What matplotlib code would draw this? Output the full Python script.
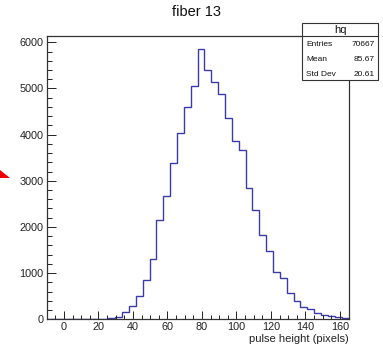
import numpy as np
import matplotlib
matplotlib.use("Agg")
import matplotlib.pyplot as plt
from matplotlib.patches import Rectangle, Polygon
from matplotlib.ticker import MultipleLocator

plt.rcParams['font.family'] = ['Liberation Sans', 'DejaVu Sans']

# ---- data ----
title = "fiber 13"
x_label = "pulse height (pixels)"
hist_name = "hq"
x_min, x_max, n_bins = -10, 165, 44
counts = [0, 0, 0, 0, 0, 0, 0, 0, 0,
          20, 40, 152, 281, 511, 845, 1313, 2150, 2670, 3392, 4028,
          4598, 5053, 5861, 5400, 5147, 4880, 4360, 3862, 3674, 2837,
          2367, 1826, 1479, 1018, 901, 576, 390, 266, 223, 143,
          100, 65, 50, 22]
stat_names = ["Entries", "Mean", "Std Dev"]
stat_values = ["70667", "85.67", "20.61"]
y_max = 6136

W, H = 383, 347
fig = plt.figure(figsize=(W / 100, H / 100), dpi=100)

def fx(px):
    return px / W

def fy(py):
    return 1 - py / H

L, R, T, B = 46.7, 348.5, 36.0, 319.3
ax = fig.add_axes([fx(L), fy(B), fx(R) - fx(L), fy(T) - fy(B)])

edges = np.linspace(x_min, x_max, n_bins + 1)
ax.stairs(counts, edges, color='#3a3aaa', linewidth=1.0, baseline=0, zorder=1)

ax.set_xlim(x_min, x_max)
ax.set_ylim(0, y_max)
ax.xaxis.set_major_locator(MultipleLocator(20))
ax.xaxis.set_minor_locator(MultipleLocator(5))
ax.yaxis.set_major_locator(MultipleLocator(1000))
ax.yaxis.set_minor_locator(MultipleLocator(200))
ax.tick_params(axis='x', which='major', direction='in', length=5.8, width=0.7,
               labelsize=7.8, pad=2, colors='#222222')
ax.tick_params(axis='x', which='minor', direction='in', length=2.9, width=0.7, colors='#222222')
ax.tick_params(axis='y', which='major', direction='in', length=6.8, width=0.7,
               labelsize=7.8, pad=2.4, colors='#222222')
ax.tick_params(axis='y', which='minor', direction='in', length=3.4, width=0.7, colors='#222222')
for s in ax.spines.values():
    s.set_linewidth(0.9)
    s.set_color('#333333')
    s.set_zorder(3)

fig.text(fx(348.5), fy(338.5), x_label, ha='right', va='center', fontsize=8, color='#222222')
fig.text(fx(197), fy(12.5), title, ha='center', va='center', fontsize=10.5, color='#111111')

# stats box
bx0, bx1, by0, by1 = 302.3, 378.3, 23.3, 80.0
fig.patches.append(Rectangle((fx(bx0), fy(by1)), fx(bx1) - fx(bx0), fy(by0) - fy(by1),
                             transform=fig.transFigure, facecolor='white',
                             edgecolor='#333333', linewidth=0.8, zorder=5))
fig.lines.append(plt.Line2D([fx(bx0), fx(bx1)], [fy(36.0), fy(36.0)],
                            transform=fig.transFigure, color='#333333', linewidth=0.8, zorder=6))
fig.text(fx((bx0 + bx1) / 2), fy(29.8), hist_name, ha='center', va='center',
         fontsize=8, color='#111111', zorder=7)
row_y = [44.7, 59.3, 74.0]
for name, val, yy in zip(stat_names, stat_values, row_y):
    fig.text(fx(306), fy(yy), name, ha='left', va='center', fontsize=6, color='#111111', zorder=7)
    fig.text(fx(374.5), fy(yy), val, ha='right', va='center', fontsize=6, color='#111111', zorder=7)

# red arrow tip at left edge
fig.patches.append(Polygon([(fx(0), fy(169.5)), (fx(0), fy(178)), (fx(10), fy(178))],
                           closed=True, transform=fig.transFigure, facecolor='#ee0000',
                           edgecolor='none', zorder=8))

fig.savefig("out.png", dpi=100)
